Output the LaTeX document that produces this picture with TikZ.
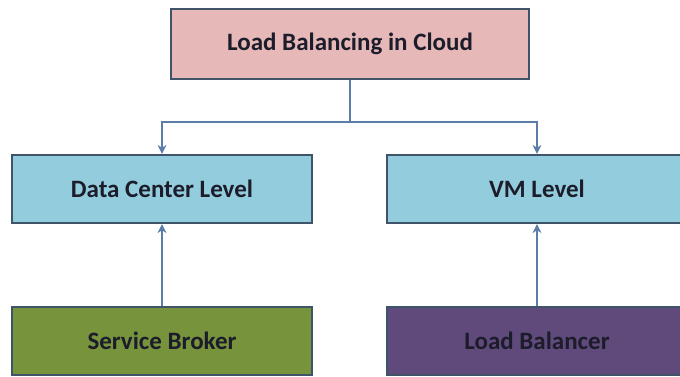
\documentclass[tikz,border=0pt]{standalone}
\usepackage{fontspec}
\setmainfont{Carlito}
\usetikzlibrary{arrows.meta}
\definecolor{pinkfill}{HTML}{E6B9B8}
\definecolor{bluefill}{HTML}{93CDDD}
\definecolor{greenfill}{HTML}{77933C}
\definecolor{purplefill}{HTML}{604A7B}
\definecolor{edgecol}{HTML}{3F5468}
\definecolor{conncol}{HTML}{5A7EA8}
\definecolor{txtcol}{HTML}{1C1C2A}
\tikzset{
  box/.style={draw=edgecol, line width=2.2pt, minimum width=300pt, minimum height=68pt,
    inner sep=0pt, font=\fontsize{25}{30}\selectfont\bfseries, text=txtcol},
  conn/.style={draw=conncol, line width=2pt, -{Stealth[length=9pt,width=9pt]}},
  line/.style={draw=conncol, line width=2pt}
}
\begin{document}
\begin{tikzpicture}[x=1pt,y=-1pt]
\useasboundingbox (0,0) rectangle (680,377);
\clip (0,0) rectangle (680,377);
\node[box, fill=pinkfill, minimum width=358pt, minimum height=70pt] (top) at (350,44) {Load Balancing in Cloud};
\node[box, fill=bluefill] (dc) at (162,189) {Data Center Level};
\node[box, fill=bluefill] (vm) at (537,189) {VM Level};
\node[box, fill=greenfill] (sb) at (162,341) {Service Broker};
\node[box, fill=purplefill] (lb) at (537,341) {Load Balancer};
\draw[line] (top.south) -- ++(0,42) coordinate (split);
\draw[conn] (split) -| (dc.north);
\draw[conn] (split) -| (vm.north);
\draw[conn] (sb.north) -- (dc.south);
\draw[conn] (lb.north) -- (vm.south);
\end{tikzpicture}
\end{document}
